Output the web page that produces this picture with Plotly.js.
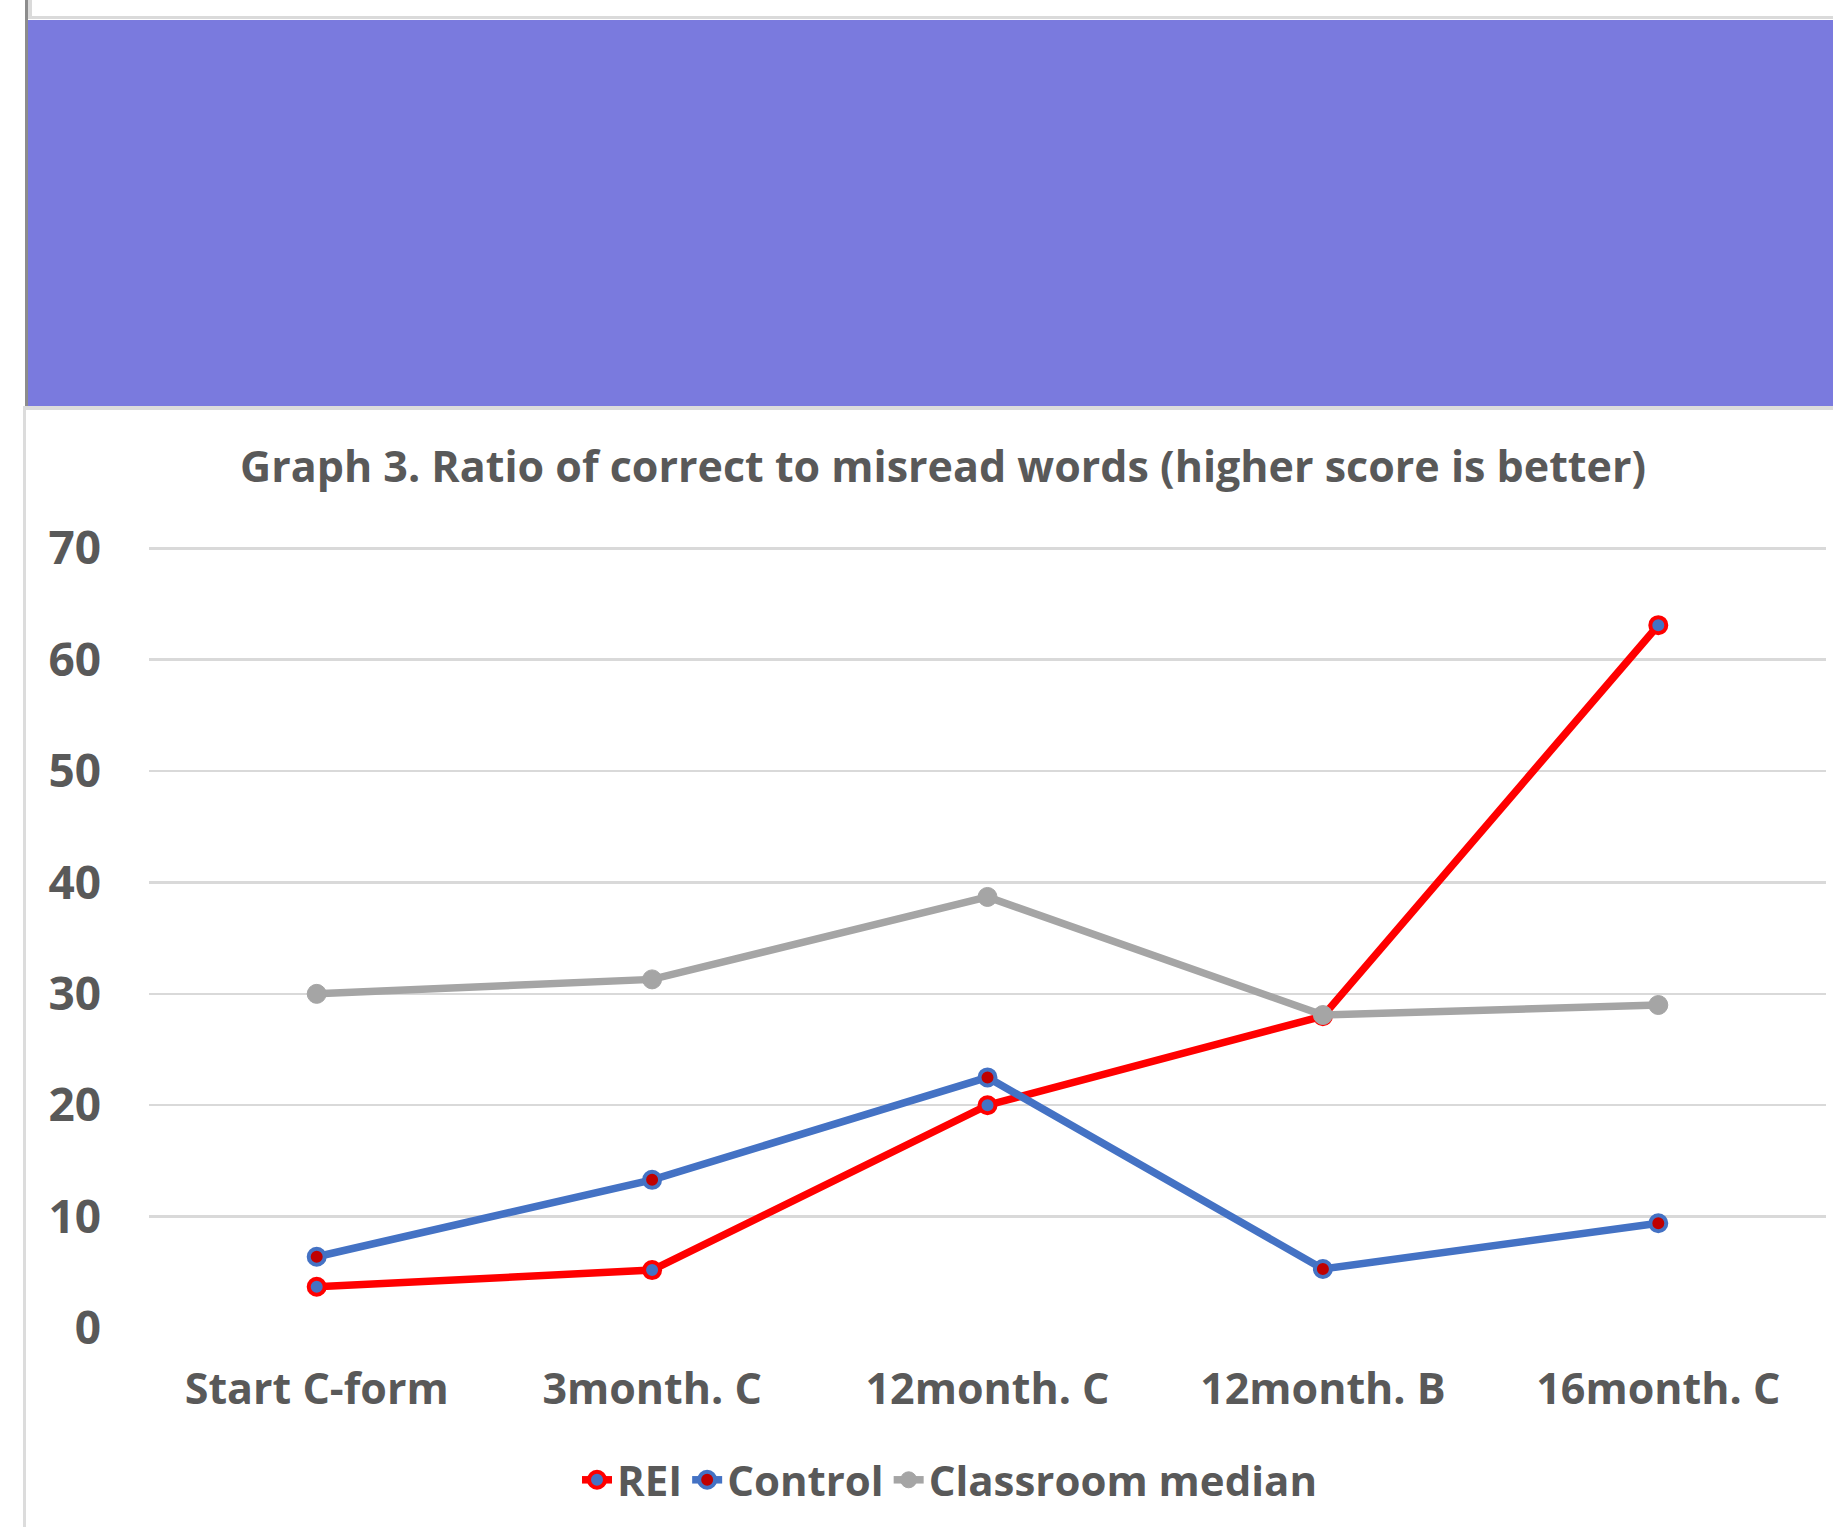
<!DOCTYPE html>
<html>
<head>
<meta charset="utf-8">
<script src="https://cdn.plot.ly/plotly-3.0.1.min.js"></script>
<style>
  html, body { margin: 0; padding: 0; background: #ffffff; }
  body { width: 1833px; height: 1527px; position: relative; overflow: hidden; }
  #topbox { position: absolute; left: 28px; top: 0; width: 1805px; height: 16px; background: #ffffff;
            border-left: 4px solid #dadada; border-bottom: 3px solid #dadada; box-sizing: content-box; }
  #leftdark { position: absolute; left: 25px; top: 0; width: 3px; height: 407px; background: #8c8c8c; }
  #banner { position: absolute; left: 28px; top: 20px; width: 1805px; height: 386px; background: #7a7ade; }
  #sep { position: absolute; left: 23px; top: 406px; width: 1810px; height: 4px; background: #dcdcdc; }
  #leftlight { position: absolute; left: 23px; top: 406px; width: 3px; height: 1121px; background: #dcdcdc; }
  #chart { position: absolute; left: 26px; top: 410px; width: 1807px; height: 1117px; }
</style>
</head>
<body>
<div id="topbox"></div>
<div id="leftdark"></div>
<div id="banner"></div>
<div id="sep"></div>
<div id="leftlight"></div>
<div id="chart"></div>
<script>
const categories = ["Start C-form", "3month. C", "12month. C", "12month. B", "16month. C"];
const reiValues = [3.7, 5.2, 20.0, 28.0, 63.1];
const controlValues = [6.4, 13.3, 22.5, 5.3, 9.4];
const classroomMedian = [30.0, 31.3, 38.7, 28.1, 29.0];
const seriesNames = ["REI", "Control", "Classroom median"];
const yTickValues = [0, 10, 20, 30, 40, 50, 60, 70];
const titleText = "Graph 3. Ratio of correct to misread words (higher score is better)";

const fontFam = "Open Sans, Noto Sans, sans-serif";
const txtColor = "#595959";

const traces = [
  {
    x: categories, y: reiValues, name: seriesNames[0], type: "scatter", mode: "lines+markers",
    line: { color: "#ff0000", width: 7.5 }, cliponaxis: false,
    marker: { size: 16, color: "#4472c4", line: { color: "#ff0000", width: 4 } }
  },
  {
    x: categories, y: controlValues, name: seriesNames[1], type: "scatter", mode: "lines+markers",
    line: { color: "#4472c4", width: 7.5 }, cliponaxis: false,
    marker: { size: 16, color: "#c00000", line: { color: "#4472c4", width: 4 } }
  },
  {
    x: categories, y: classroomMedian, name: seriesNames[2], type: "scatter", mode: "lines+markers",
    line: { color: "#a5a5a5", width: 7.5 }, cliponaxis: false,
    marker: { size: 19, color: "#a5a5a5", line: { color: "#a5a5a5", width: 1 } }
  }
];

const layout = {
  width: 1807, height: 1117,
  paper_bgcolor: "#ffffff", plot_bgcolor: "#ffffff",
  margin: { l: 123, r: 7, t: 135, b: 199, pad: 0 },
  font: { family: fontFam, color: txtColor, size: 44, weight: 700 },
  title: {
    text: titleText,
    font: { family: fontFam, size: 43, color: txtColor, weight: 700 },
    x: 0.5075, xref: "container", xanchor: "center",
    y: 1 - 57 / 1117, yref: "container", yanchor: "middle"
  },
  xaxis: {
    type: "category", range: [-0.5, 4.5],
    showgrid: false, zeroline: false, showline: false, ticks: "",
    tickfont: { family: fontFam, size: 43, color: txtColor, weight: 700 },
    ticklabelstandoff: 32
  },
  yaxis: {
    range: [0, 70.3], tickmode: "array", tickvals: yTickValues,
    showgrid: true, gridcolor: "#d9d9d9", gridwidth: 2.5,
    zeroline: false, showline: false, ticks: "",
    tickfont: { family: fontFam, size: 46, color: txtColor, weight: 700 },
    ticklabelstandoff: 47
  },
  showlegend: true,
  legend: {
    orientation: "h", xref: "container", yref: "container",
    x: 924 / 1807, xanchor: "center", y: 1 - 1070 / 1117, yanchor: "middle",
    font: { family: fontFam, size: 42, color: txtColor, weight: 700 },
    bgcolor: "rgba(0,0,0,0)", tracegroupgap: 0
  }
};

Plotly.newPlot("chart", traces, layout, { displayModeBar: false, staticPlot: true });
</script>
</body>
</html>
